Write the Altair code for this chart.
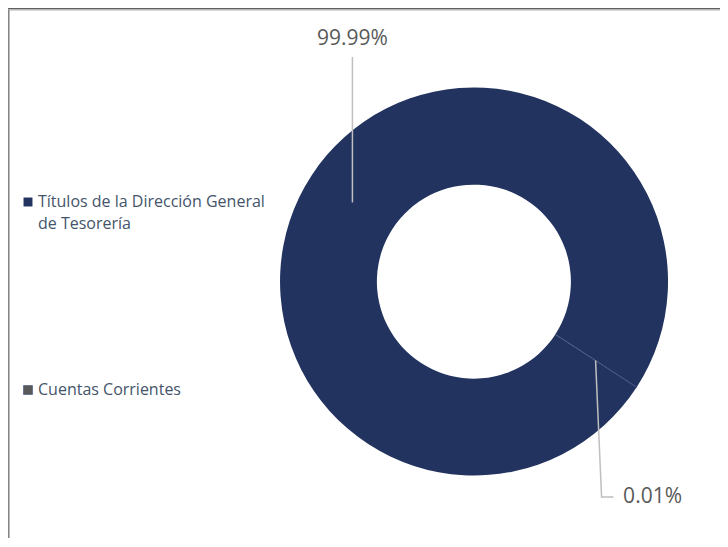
import math
import altair as alt
import pandas as pd

# ---------------- data ----------------
categories = ["Títulos de la Dirección General de Tesorería", "Cuentas Corrientes"]
legend_lines = [["Títulos de la Dirección General", "de Tesorería"], ["Cuentas Corrientes"]]
shares = [99.99, 0.01]
share_labels = ["99.99%", "0.01%"]
colors = ["#21335E", "#595959"]

# ---------------- layout ----------------
W, H = 712, 530
CX, CY = 466, 273.5
R_OUT, R_IN = 194, 97
R_MID = 145
START_DEG = 123.04
TEXT = "#595959"
LEGEND_TEXT = "#44546A"
LEADER = "#BFBFBF"
FONT = "Open Sans"

df = pd.DataFrame({"cat": categories, "share": shares, "order": list(range(len(categories)))})

start = math.radians(START_DEG)
theta_scale = alt.Scale(range=[start, start + 2 * math.pi])

# slice mid-angles from the data -> leader line anchors
total = sum(shares)
mids, cum = [], 0.0
for s in shares:
    mids.append(START_DEG + (cum + s / 2) / total * 360)
    cum += s
anchors = [(CX + R_MID * math.sin(math.radians(a)), CY - R_MID * math.cos(math.radians(a))) for a in mids]

# leader routes (label placement chosen like the original)
ax0, ay0 = anchors[0]
ax1, ay1 = anchors[1]
routes = [
    [(ax0, ay0), (ax0, 49)],
    [(ax1, ay1), (ax1 + 6, 489), (ax1 + 18, 489)],
]
label_pos = [(ax0, 31), (ax1 + 57, 489)]

lead_rows = []
for i, r in enumerate(routes):
    for j, (x, y) in enumerate(r):
        lead_rows.append({"id": i, "seq": j, "x": x, "y": y})
lead_df = pd.DataFrame(lead_rows)
lab_df = pd.DataFrame({"x": [p[0] for p in label_pos], "y": [p[1] for p in label_pos], "label": share_labels})

# legend label expression (multi-line)
expr = "datum.label"
for c, lines in reversed(list(zip(categories, legend_lines))):
    arr = "[" + ",".join("'" + l + "'" for l in lines) + "]"
    expr = f"datum.label == '{c}' ? {arr} : ({expr})"

arc = alt.Chart(df).mark_arc(outerRadius=R_OUT, innerRadius=R_IN, stroke="#4A5A85").encode(
    theta=alt.Theta("share:Q", stack=True, scale=theta_scale),
    color=alt.Color(
        "cat:N",
        scale=alt.Scale(domain=categories, range=colors),
        legend=alt.Legend(
            title=None,
            orient="none",
            legendX=12,
            legendY=186,
            symbolType="square",
            symbolSize=80,
            symbolStrokeWidth=0,
            labelFont=FONT,
            labelFontSize=16,
            labelColor=LEGEND_TEXT,
            labelLimit=500,
            labelOffset=2,
            rowPadding=150,
            labelExpr=expr,
        ),
    ),
    strokeWidth=alt.StrokeWidth(
        "cat:N", scale=alt.Scale(domain=categories, range=[0, 0.7]), legend=None
    ),
    order=alt.Order("order:Q"),
    x=alt.value(CX),
    y=alt.value(CY),
)

leaders = alt.Chart(lead_df).mark_line(color=LEADER, strokeWidth=1.5).encode(
    x=alt.X("x:Q", scale=None),
    y=alt.Y("y:Q", scale=None),
    detail="id:N",
    order="seq:Q",
)

labels = alt.Chart(lab_df).mark_text(
    font=FONT, fontSize=21, color=TEXT, align="center", baseline="middle"
).encode(
    x=alt.X("x:Q", scale=None),
    y=alt.Y("y:Q", scale=None),
    text="label:N",
)

one = pd.DataFrame({"k": [0]})
top_bar = alt.Chart(one).mark_rect(color="#5F605F").encode(
    x=alt.value(0), x2=alt.value(W), y=alt.value(0), y2=alt.value(1.6)
)
top_line = alt.Chart(one).mark_rule(color="#C8C8C8", strokeWidth=1).encode(
    x=alt.value(0), x2=alt.value(W), y=alt.value(2.2)
)
left_line = alt.Chart(one).mark_rule(color="#808080", strokeWidth=1.5).encode(
    x=alt.value(0.8), y=alt.value(2), y2=alt.value(H)
)

chart = (
    alt.layer(arc, leaders, labels, top_bar, top_line, left_line)
    .properties(width=W, height=H, autosize=alt.AutoSizeParams(type="none"), padding=0)
    .configure_view(stroke=None)
    .configure(style={"guide-label": {"lineHeight": 22}})
)

chart.save("out.html", embed_options={"renderer": "svg", "actions": False})
